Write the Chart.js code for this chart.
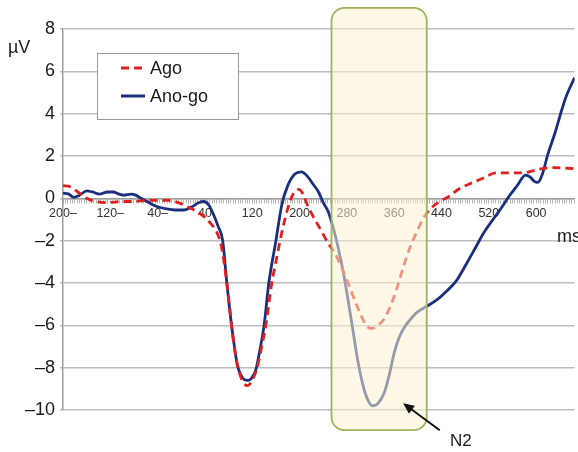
<!DOCTYPE html>
<html>
<head>
<meta charset="utf-8">
<script src="https://cdn.jsdelivr.net/npm/chart.js@4.4.1/dist/chart.umd.min.js"></script>
<style>
  html, body { margin: 0; padding: 0; background: #fff; }
  canvas { display: block; }
</style>
</head>
<body>
<canvas id="chart" width="578" height="452"></canvas>
<script>
// ERP traces, time in ms, amplitude in µV
const agoMs = [-200, -188, -175, -160, -145, -125, -100, -80, -60, -40, -20, -5, 10, 25, 40, 50, 60, 68, 77, 85, 90, 95, 100, 106, 112, 118, 124, 130, 136, 143, 153, 160, 170, 182, 190, 198, 206, 213, 220, 234, 248, 260, 270, 282, 293, 305, 314, 322, 332, 343, 355, 365, 376, 387, 398, 410, 425, 440, 453, 470, 493, 510, 532, 550, 577, 595, 610, 632, 665];
const agoUv = [0.6, 0.55, 0.3, 0.0, -0.15, -0.2, -0.15, -0.15, -0.1, -0.1, -0.1, -0.2, -0.4, -0.6, -0.9, -1.2, -1.6, -2.3, -4.0, -6.0, -7.1, -7.9, -8.4, -8.75, -8.85, -8.7, -8.35, -7.8, -7.0, -6.0, -4.0, -3.0, -1.6, -0.3, 0.25, 0.42, 0.2, -0.3, -0.7, -1.4, -2.1, -2.6, -3.2, -4.0, -4.8, -5.6, -6.05, -6.15, -6.0, -5.7, -5.0, -4.2, -3.2, -2.3, -1.6, -0.9, -0.4, -0.1, 0.1, 0.45, 0.75, 0.95, 1.2, 1.2, 1.2, 1.3, 1.4, 1.45, 1.4];

const anogoMs = [-200, -190, -182, -172, -160, -150, -138, -125, -115, -105, -97, -85, -77, -68, -55, -40, -25, -10, 5, 18, 30, 38, 46, 55, 62, 70, 77, 85, 95, 100, 106, 113, 120, 126, 132, 140, 148, 160, 170, 180, 192, 203, 213, 222, 232, 240, 248, 257, 265, 274, 282, 290, 298, 307, 315, 323, 332, 343, 352, 360, 368, 377, 388, 398, 415, 432, 448, 465, 480, 498, 512, 527, 540, 553, 568, 582, 590, 597, 603, 610, 620, 632, 643, 652, 665];
const anogoUv = [0.25, 0.2, 0.05, 0.15, 0.35, 0.3, 0.2, 0.3, 0.3, 0.2, 0.15, 0.2, 0.15, 0.0, -0.2, -0.4, -0.5, -0.55, -0.55, -0.4, -0.2, -0.15, -0.3, -0.8, -1.3, -2.0, -4.0, -6.0, -7.9, -8.3, -8.55, -8.6, -8.45, -8.1, -7.3, -6.0, -4.0, -2.0, -0.3, 0.6, 1.15, 1.25, 1.05, 0.7, 0.3, -0.2, -0.6, -1.4, -2.3, -3.5, -4.8, -6.2, -7.6, -8.8, -9.5, -9.8, -9.7, -9.2, -8.3, -7.3, -6.6, -6.1, -5.7, -5.4, -5.1, -4.8, -4.4, -3.9, -3.2, -2.3, -1.6, -1.0, -0.5, 0.05, 0.6, 1.1, 1.0, 0.8, 0.75, 1.1, 2.1, 3.1, 4.15, 4.9, 5.7];

const seriesLabels = ['Ago', 'Ano-go'];
const xLabelTicks = [-200, -120, -40, 40, 120, 200, 280, 360, 440, 520, 600];
const yTicks = [8, 6, 4, 2, 0, -2, -4, -6, -8, -10];

// highlighted N2 window (ms / µV)
const windowX = [254, 415];
const windowY = [9.0, -10.95];

const FONT = '"Liberation Sans", Arial, sans-serif';

function toPoints(xs, ys) {
    return xs.map((x, i) => ({ x: x, y: ys[i] }));
}

function fmtMs(v) {
    if (!xLabelTicks.includes(v)) return '';
    return v < 0 ? Math.abs(v) + '\u2013' : String(v);
}

const overlayPlugin = {
    id: 'overlay',
    afterDatasetsDraw(chart) {
        const ctx = chart.ctx;
        const xs = chart.scales.x, ys = chart.scales.y;
        const l = xs.getPixelForValue(windowX[0]), r = xs.getPixelForValue(windowX[1]);
        const t = ys.getPixelForValue(windowY[0]), b = ys.getPixelForValue(windowY[1]);
        ctx.save();
        ctx.beginPath();
        ctx.roundRect(l, t, r - l, b - t, 13);
        ctx.fillStyle = 'rgba(252, 243, 210, 0.55)';
        ctx.fill();
        ctx.lineWidth = 1.8;
        ctx.strokeStyle = '#9db35e';
        ctx.stroke();
        ctx.restore();
    },
    afterDraw(chart) {
        const ctx = chart.ctx;
        const xs = chart.scales.x, ys = chart.scales.y;
        ctx.save();

        // legend box
        ctx.fillStyle = '#fff';
        ctx.fillRect(97, 53, 141, 66);
        ctx.strokeStyle = '#9a9a9a';
        ctx.lineWidth = 1;
        ctx.strokeRect(97.5, 53.5, 141, 66);
        const ds = chart.data.datasets;
        const rows = [68, 96];
        ds.forEach((d, i) => {
            ctx.beginPath();
            ctx.setLineDash(d.borderDash || []);
            ctx.strokeStyle = d.borderColor;
            ctx.lineWidth = 3;
            ctx.moveTo(121, rows[i]);
            ctx.lineTo(145, rows[i]);
            ctx.stroke();
            ctx.setLineDash([]);
            ctx.fillStyle = '#1a1a1a';
            ctx.font = '18px ' + FONT;
            ctx.textBaseline = 'middle';
            ctx.textAlign = 'left';
            ctx.fillText(d.label, 150, rows[i] + 1);
        });

        // axis units
        ctx.fillStyle = '#1a1a1a';
        ctx.font = '18px ' + FONT;
        ctx.textBaseline = 'middle';
        ctx.fillText('\u00b5V', 8, 48);
        ctx.fillText('ms', 557, 237);

        // N2 arrow
        const tipX = xs.getPixelForValue(375), tipY = ys.getPixelForValue(-9.68);
        const tailX = xs.getPixelForValue(437), tailY = ys.getPixelForValue(-10.96);
        const ang = Math.atan2(tipY - tailY, tipX - tailX);
        ctx.strokeStyle = '#111';
        ctx.fillStyle = '#111';
        ctx.lineWidth = 2;
        ctx.beginPath();
        ctx.moveTo(tailX, tailY);
        ctx.lineTo(tipX - 6 * Math.cos(ang), tipY - 6 * Math.sin(ang));
        ctx.stroke();
        ctx.beginPath();
        ctx.moveTo(tipX, tipY);
        ctx.lineTo(tipX - 11 * Math.cos(ang) + 5 * Math.sin(ang), tipY - 11 * Math.sin(ang) - 5 * Math.cos(ang));
        ctx.lineTo(tipX - 11 * Math.cos(ang) - 5 * Math.sin(ang), tipY - 11 * Math.sin(ang) + 5 * Math.cos(ang));
        ctx.closePath();
        ctx.fill();
        ctx.fillStyle = '#1a1a1a';
        ctx.font = '17px ' + FONT;
        ctx.fillText('N2', 450, 441);
        ctx.restore();
    }
};

new Chart(document.getElementById('chart').getContext('2d'), {
    type: 'line',
    data: {
        datasets: [{
            label: seriesLabels[0],
            data: toPoints(agoMs, agoUv),
            borderColor: '#e0201e',
            borderWidth: 2.8,
            borderDash: [8, 5],
            pointRadius: 0,
            cubicInterpolationMode: 'monotone',
            fill: false
        }, {
            label: seriesLabels[1],
            data: toPoints(anogoMs, anogoUv),
            borderColor: '#1b2f7d',
            borderWidth: 2.8,
            pointRadius: 0,
            cubicInterpolationMode: 'monotone',
            fill: false
        }]
    },
    options: {
        responsive: false,
        animation: false,
        layout: { padding: { top: 29, bottom: 42, left: 0, right: 0 } },
        plugins: {
            legend: { display: false },
            tooltip: { enabled: false }
        },
        scales: {
            x: {
                type: 'linear',
                position: { y: 0 },
                min: -200,
                max: 665,
                afterBuildTicks(scale) {
                    const ticks = [];
                    for (let v = -200; v <= 664; v += 4) ticks.push({ value: v });
                    scale.ticks = ticks;
                },
                ticks: {
                    autoSkip: false,
                    maxRotation: 0,
                    padding: 4,
                    color: '#333333',
                    font: { family: FONT, size: 12.5 },
                    callback: (v) => fmtMs(v)
                },
                grid: {
                    drawOnChartArea: false,
                    drawTicks: true,
                    tickLength: 4,
                    color: '#b5b5b5',
                    lineWidth: 1
                },
                border: { display: true, color: '#9e9e9e', width: 1.5 }
            },
            y: {
                min: -10,
                max: 8,
                afterFit(scale) { scale.width = 63; },
                afterBuildTicks(scale) {
                    scale.ticks = yTicks.map(v => ({ value: v }));
                },
                ticks: {
                    padding: 5,
                    color: '#1a1a1a',
                    font: { family: FONT, size: 18 },
                    callback: (v) => v < 0 ? '\u2013' + Math.abs(v) : String(v)
                },
                grid: {
                    color: '#bdbdbd',
                    lineWidth: 1.5,
                    tickLength: 3
                },
                border: { color: '#9e9e9e', width: 1.5 }
            }
        }
    },
    plugins: [overlayPlugin]
});
</script>
</body>
</html>
